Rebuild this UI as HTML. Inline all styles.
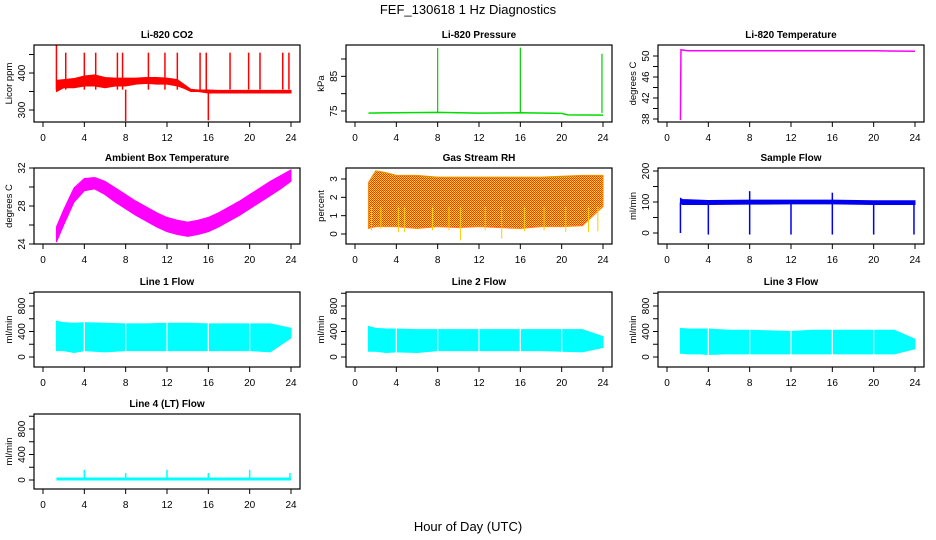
<!DOCTYPE html>
<html><head><meta charset="utf-8"><style>
html,body{margin:0;padding:0;background:#fff;}
svg{display:block;font-family:"Liberation Sans",Arial,sans-serif;}
</style></head><body>
<svg id="chart" width="936" height="540" viewBox="0 0 936 540" xmlns="http://www.w3.org/2000/svg">
<defs>
<pattern id="rhpat" width="2" height="2" patternUnits="userSpaceOnUse">
<rect width="2" height="2" fill="#ffdd00"/>
<rect x="0" y="0" width="1" height="1" fill="#ff2a10"/>
<rect x="1" y="1" width="1" height="1" fill="#ff2a10"/>
</pattern>
</defs>
<text x="468" y="14" text-anchor="middle" font-size="13">FEF_130618  1 Hz Diagnostics</text>
<text x="468" y="531" text-anchor="middle" font-size="13">Hour of Day (UTC)</text>
</svg>
<script>
// ---- data (hours of day) ----
const xTicks = [0,4,8,12,16,20,24];

const co2Hours = [1.3,2,3,4,5,6,7,8,9,10,11,12,13,13.7,14.3,15,16,17,18,19,20,21,22,23,24];
const co2Low  = [350,360,360,365,365,360,365,365,370,372,370,370,365,358,350,350,346,346,346,346,346,346,346,346,346];
const co2High = [380,382,385,392,395,388,386,386,386,388,388,386,382,368,356,354,354,353,353,353,353,353,353,353,353];
const co2SpikeT = [1.3,2.2,4.0,5.1,7.2,7.7,8.0,10.2,11.8,13.0,15.2,15.8,16.0,18.1,19.9,21.0,23.2,23.8];
const co2SpikeV = [475,455,455,455,455,455,270,455,455,455,455,455,272,455,455,455,455,455];

const presHours = [1.3,4,8,12,16,20,20.6,24];
const presVals  = [74.4,74.5,74.6,74.4,74.5,74.3,73.9,73.8];
const presSpikeT = [8.0,16.0,23.9];
const presSpikeV = [93.2,93.3,91.5];

const tempHours = [1.3,1.35,2,6,12,16,20,24];
const tempVals  = [37.8,51.2,51.0,51.0,51.0,51.0,51.0,50.9];

const ambHours = [1.3,2,3,4,5,6,7,8,9,10,11,12,13,14,15,16,17,18,19,20,21,22,23,24];
const ambLow  = [24.2,26.0,28.4,29.6,29.8,29.2,28.4,27.7,27.0,26.4,25.8,25.3,25.0,24.8,25.0,25.3,25.8,26.4,27.0,27.7,28.4,29.1,29.8,30.6];
const ambHigh = [25.8,27.6,29.9,30.9,31.0,30.6,29.9,29.2,28.5,27.9,27.3,26.8,26.5,26.3,26.5,26.8,27.3,27.9,28.5,29.2,29.9,30.6,31.2,31.8];

const rhHours = [1.3,2,3,4,6,8,10,12,14,16,18,20,22,24];
const rhHigh  = [2.8,3.45,3.35,3.2,3.2,3.1,3.1,3.1,3.1,3.1,3.1,3.15,3.2,3.2];
const rhLow   = [0.3,0.4,0.4,0.4,0.3,0.4,0.35,0.4,0.35,0.3,0.4,0.4,0.45,1.5];
const rhDipT  = [1.6,2.5,4.2,4.8,7.5,9.1,10.2,12.6,14.2,16.4,18.3,20.4,22.6,23.5];
const rhDipV  = [0.2,0.3,0.1,0.1,0.2,0.2,-0.35,0.2,-0.25,0.15,0.2,0.1,0.1,0.15];

const sfHours = [1.3,1.5,4,8,12,16,20,24];
const sfLow   = [95,92,92,93,94,94,92,92];
const sfHigh  = [112,108,105,106,106,106,104,104];
const sfSpikeT = [1.3,4.0,8.0,12.0,16.0,20.0,23.9,8.0,16.0];
const sfSpikeV = [0,-5,-5,-5,-5,-5,-5,135,130];

const flowHours = [1.3,2,3,4,6,8,10,12,14,16,18,20,22,24];
const l1Low  = [100,100,70,100,80,100,100,100,100,100,100,100,80,300];
const l1High = [560,540,530,540,530,520,520,530,530,520,520,520,520,450];
const l2Low  = [90,90,70,80,70,100,100,100,100,100,100,90,80,150];
const l2High = [480,450,440,440,430,430,430,430,430,430,430,430,430,320];
const l3Low  = [60,50,50,40,50,50,50,50,50,50,50,50,50,130];
const l3High = [450,440,440,440,420,420,410,400,420,420,420,420,420,280];
const flowGapT = [4,8,12,16,20];
const l4Hours = [1.3,24];
const l4Vals  = [15,15];
const l4SpikeT = [4.0,8.0,12.0,16.0,20.0,23.9];
const l4SpikeV = [160,110,160,110,160,110];

// ---- layout ----
const rowsY = [[45,122],[168,244],[292,367],[414,489]];
const NS='http://www.w3.org/2000/svg';
const svg=document.getElementById('chart');
function mk(tag,attrs,parent){const e=document.createElementNS(NS,tag);for(const k in attrs)e.setAttribute(k,attrs[k]);(parent||svg).appendChild(e);return e;}

function panel(col,row,name,title,ylab,t1,y1,t2,y2,ticks,labels){
  const L=34+312*col,R=300+312*col,T=rowsY[row][0],B=rowsY[row][1];
  const g=mk('g',{});
  
  
  const x=t=>43+312*col+(t/24)*248;
  const y=v=>y1+(v-t1)*(y2-y1)/(t2-t1);
  const clipId='clip-'+name;
  const cp=mk('clipPath',{id:clipId},g);mk('rect',{x:L,y:T,width:R-L,height:B-T},cp);
  const plot=mk('g',{'clip-path':'url(#'+clipId+')'},g);
  
  
  const ttl=mk('text',{x:(L+R)/2,y:T-7,'text-anchor':'middle','font-size':'10','font-weight':'bold'},g);
  ttl.textContent=title;
  
  
  const yl=mk('text',{x:0,y:0,'text-anchor':'middle','font-size':'9.5',transform:`translate(${L-22},${(T+B)/2}) rotate(-90)`},g);
  yl.textContent=ylab;
  
  
  const xa=mk('g',{stroke:'#000','stroke-width':1},g);
  
  
  xTicks.forEach(t=>{
    mk('line',{x1:x(t),x2:x(t),y1:B,y2:B+5},xa);
    const tx=mk('text',{x:x(t),y:B+19,'text-anchor':'middle','font-size':'10',stroke:'none',fill:'#000'},xa);
    tx.textContent=t;
    
    
  });
  mk('line',{x1:x(0),x2:x(24),y1:B,y2:B},xa);
  const ya=mk('g',{stroke:'#000','stroke-width':1},g);
  
  
  ticks.forEach(v=>{mk('line',{x1:L-5,x2:L,y1:y(v),y2:y(v)},ya);});
  labels.forEach(v=>{
    const tx=mk('text',{x:0,y:0,'text-anchor':'middle','font-size':'10',stroke:'none',fill:'#000',transform:`translate(${L-9},${y(v)}) rotate(-90)`},ya);
    tx.textContent=v;
    
    
  });
  mk('line',{x1:L,x2:L,y1:y(ticks[0]),y2:y(ticks[ticks.length-1])},ya);
  const box=mk('rect',{x:L,y:T,width:R-L,height:B-T,fill:'none',stroke:'#000','stroke-width':1.2},g);
  
  
  return {x,y,plot,T,B};
}
function band(p,hours,lo,hi,fill,name){
  let d='M'+hours.map((t,i)=>p.x(t)+','+p.y(hi[i])).join('L');
  for(let i=hours.length-1;i>=0;i--)d+='L'+p.x(hours[i])+','+p.y(lo[i]);
  const e=mk('path',{d:d+'Z',fill:fill,stroke:fill==='url(#rhpat)'?'#ff8800':fill,'stroke-width':1},p.plot);
  
  
}
function line(p,hours,vals,color,w,name){
  const e=mk('polyline',{points:hours.map((t,i)=>p.x(t)+','+p.y(vals[i])).join(' '),fill:'none',stroke:color,'stroke-width':w},p.plot);
  
  
}
function spikes(p,ts,vs,base,color,w,name){
  ts.forEach((t,i)=>{
    const e=mk('line',{x1:p.x(t),x2:p.x(t),y1:p.y(base),y2:p.y(vs[i]),stroke:color,'stroke-width':w},p.plot);
    
    
  });
}
function gaps(p,ts,name){
  ts.forEach(t=>{
    const e=mk('line',{x1:p.x(t),x2:p.x(t),y1:p.T,y2:p.B,stroke:'#fff','stroke-width':1.2},p.plot);
    
    
  });
}

let p=panel(0,0,'co2','Li-820 CO2','Licor ppm',300,110,400,73,[300,350,400,450],[300,400]);
band(p,co2Hours,co2Low,co2High,'#ff0000','co2-band');
spikes(p,co2SpikeT,co2SpikeV,355,'#ff0000',1.5,'co2-spike');
p=panel(1,0,'pressure','Li-820 Pressure','kPa',75,111,90,59,[75,80,85,90],[75,85]);
line(p,presHours,presVals,'#00dd00',1.5,'pressure-line');
spikes(p,presSpikeT,presSpikeV,74.4,'#00cc00',1.2,'pressure-spike');
p=panel(2,0,'li820-temp','Li-820 Temperature','degrees C',38,119,50,56,[38,40,42,44,46,48,50],[38,42,46,50]);
line(p,tempHours,tempVals,'#ff00ff',1.5,'temperature-line');
p=panel(0,1,'ambient','Ambient Box Temperature','degrees C',24,244,32,168,[24,26,28,30,32],[24,28,32]);
band(p,ambHours,ambLow,ambHigh,'#ff00ff','ambient-band');
p=panel(1,1,'rh','Gas Stream RH','percent',0,234,3,179,[0,1,2,3],[0,1,2,3]);
band(p,rhHours,rhLow,rhHigh,'url(#rhpat)','rh-band');
spikes(p,rhDipT,rhDipV,1.5,'#ffcc00',1,'rh-dip');
p=panel(2,1,'sample-flow','Sample Flow','ml/min',0,233,200,171,[0,50,100,150,200],[0,100,200]);
band(p,sfHours,sfLow,sfHigh,'#0000ee','sample-flow-band');
spikes(p,sfSpikeT,sfSpikeV,98,'#0000ee',1.5,'sample-flow-spike');
const lt=[0,200,400,600,800,1000],ll=[0,400,800];
p=panel(0,2,'line1','Line 1 Flow','ml/min',0,357,800,306,lt,ll);
band(p,flowHours,l1Low,l1High,'#00ffff','line1-band');gaps(p,flowGapT,'line1-gap');
p=panel(1,2,'line2','Line 2 Flow','ml/min',0,357,800,306,lt,ll);
band(p,flowHours,l2Low,l2High,'#00ffff','line2-band');gaps(p,flowGapT,'line2-gap');
p=panel(2,2,'line3','Line 3 Flow','ml/min',0,357,800,306,lt,ll);
band(p,flowHours,l3Low,l3High,'#00ffff','line3-band');gaps(p,flowGapT,'line3-gap');
p=panel(0,3,'line4','Line 4 (LT) Flow','ml/min',0,480,800,429,lt,ll);
line(p,l4Hours,l4Vals,'#00ffff',3,'line4-line');
spikes(p,l4SpikeT,l4SpikeV,15,'#00ffff',1.5,'line4-spike');
</script>
</body></html>
